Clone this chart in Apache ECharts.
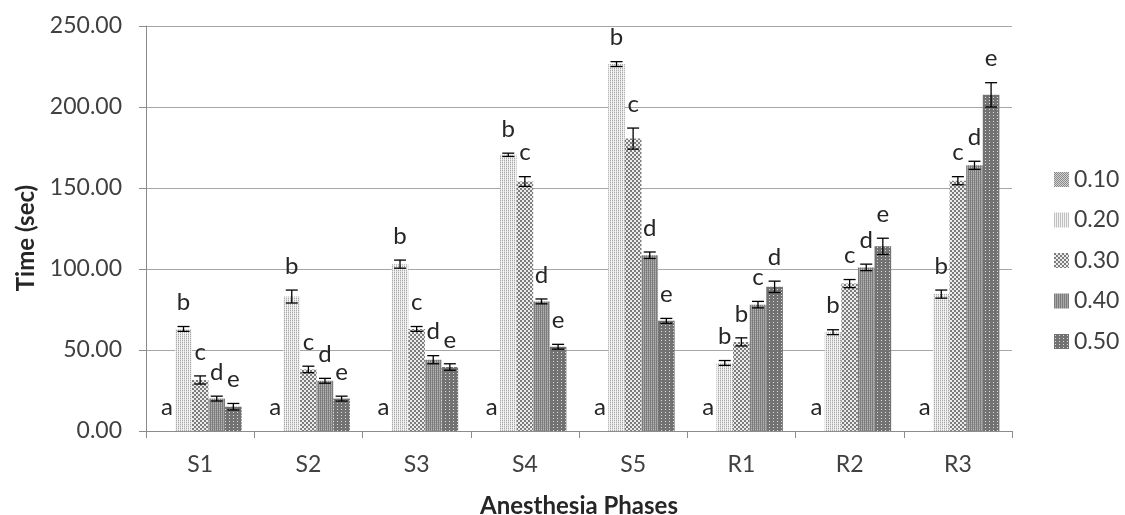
<!DOCTYPE html>
<html>
<head>
<meta charset="utf-8">
<script src="https://cdn.jsdelivr.net/npm/echarts@6/dist/echarts.min.js"></script>
<style>
  html, body { margin: 0; padding: 0; background: #ffffff; }
  #chart { width: 1125px; height: 515px; }
</style>
</head>
<body>
<div id="chart"></div>
<script>
// ---- data ----
const categories = ['S1', 'S2', 'S3', 'S4', 'S5', 'R1', 'R2', 'R3'];
const seriesNames = ['0.10', '0.20', '0.30', '0.40', '0.50'];

const values010 = [0, 0, 0, 0, 0, 0, 0, 0];
const values020 = [63, 83, 103, 170.5, 226.5, 42, 61, 84.5];
const values030 = [31.5, 38, 63, 154, 180.5, 55, 91, 154.5];
const values040 = [20, 31, 44, 80, 108.5, 78, 101, 164];
const values050 = [15, 20, 39.5, 52, 68, 89, 114, 207.5];

const errors010 = [0, 0, 0, 0, 0, 0, 0, 0];
const errors020 = [1.5, 4, 2.5, 1, 1.5, 1.5, 1.5, 2.5];
const errors030 = [2.5, 2, 1.5, 3, 6.5, 2.5, 2.5, 2.5];
const errors040 = [1.5, 1.5, 2.5, 1.5, 2, 2, 2, 2.5];
const errors050 = [2, 1.5, 2, 1.5, 1.5, 3.5, 5, 7.5];

const letters010 = ['a', 'a', 'a', 'a', 'a', 'a', 'a', 'a'];
const letters020 = ['b', 'b', 'b', 'b', 'b', 'b', 'b', 'b'];
const letters030 = ['c', 'c', 'c', 'c', 'c', 'b', 'c', 'c'];
const letters040 = ['d', 'd', 'd', 'd', 'd', 'c', 'd', 'd'];
const letters050 = ['e', 'e', 'e', 'e', 'e', 'd', 'e', 'e'];

const yTicks = [0, 50, 100, 150, 200, 250];

const allValues = [values010, values020, values030, values040, values050];
const allErrors = [errors010, errors020, errors030, errors040, errors050];
const allLetters = [letters010, letters020, letters030, letters040, letters050];

// ---- patterns ----
function makePattern(w, h, bg, pixels) {
  const c = document.createElement('canvas');
  c.width = w; c.height = h;
  const ctx = c.getContext('2d');
  ctx.fillStyle = bg;
  ctx.fillRect(0, 0, w, h);
  pixels.forEach(p => { ctx.fillStyle = p[2]; ctx.fillRect(p[0], p[1], 1, 1); });
  return { image: c, repeat: 'repeat' };
}
const patterns = [
  makePattern(2, 2, '#d2d2d2', [[0, 0, '#8a8a8a'], [1, 1, '#8a8a8a']]),
  makePattern(2, 2, '#f3f3f3', [[0, 0, '#a8a8a8'], [0, 1, '#d8d8d8']]),
  makePattern(4, 4, '#ececec', [[0, 0, '#7c7c7c'], [1, 0, '#7c7c7c'], [0, 1, '#7c7c7c'], [1, 1, '#7c7c7c'],
                                [2, 2, '#7c7c7c'], [3, 2, '#7c7c7c'], [2, 3, '#7c7c7c'], [3, 3, '#7c7c7c']]),
  makePattern(2, 2, '#7c7c7c', [[1, 1, '#b4b4b4'], [1, 0, '#9a9a9a']]),
  makePattern(4, 3, '#727272', [[1, 1, '#dcdcdc']])
];

const FONT = 'Lato, "Liberation Sans", sans-serif';
const GAP = 0.233;

const series = [];
seriesNames.forEach((name, i) => {
  series.push({
    name: name,
    type: 'bar',
    data: allValues[i],
    barGap: '0%',
    barCategoryGap: (GAP * 100) + '%',
    itemStyle: { color: patterns[i] },
    emphasis: { disabled: true },
    z: 2
  });
});
seriesNames.forEach((name, i) => {
  const data = categories.map((c, k) => [k, allValues[i][k], allErrors[i][k], allLetters[i][k]]);
  series.push({
    type: 'custom',
    coordinateSystem: 'cartesian2d',
    silent: true,
    z: 5,
    encode: { x: 0, y: 1 },
    data: data,
    renderItem: function (params, api) {
      const k = api.value(0);
      const v = api.value(1);
      const e = api.value(2);
      const letter = data[params.dataIndex][3];
      const base = api.coord([k, v]);
      const band = api.size([1, 0])[0];
      const bw = band * (1 - GAP) / 5;
      const x = base[0] + (i - 2) * bw;
      const yTop = api.coord([k, v + e])[1];
      const yBot = api.coord([k, v - e])[1];
      const children = [];
      const style = { stroke: '#000', lineWidth: 1.3 };
      if (e > 0) {
        const cw = 6;
        children.push({ type: 'line', shape: { x1: x, y1: yTop, x2: x, y2: yBot }, style: style });
        children.push({ type: 'line', shape: { x1: x - cw, y1: yTop, x2: x + cw, y2: yTop }, style: style });
        children.push({ type: 'line', shape: { x1: x - cw, y1: yBot, x2: x + cw, y2: yBot }, style: style });
      }
      children.push({
        type: 'text',
        x: x, y: yTop - 24,
        style: {
          text: letter, fill: '#262626', font: '24px ' + FONT,
          textAlign: 'center', textVerticalAlign: 'middle'
        }
      });
      return { type: 'group', children: children };
    }
  });
});

const chart = echarts.init(document.getElementById('chart'), null, { renderer: 'canvas' });
chart.setOption({
  animation: false,
  backgroundColor: '#ffffff',
  textStyle: { fontFamily: FONT },
  grid: { left: 146, right: 113, top: 26, bottom: 84, containLabel: false, outerBoundsMode: 'none' },
  graphic: [{
    type: 'text',
    x: 26, y: 238,
    rotation: Math.PI / 2,
    silent: true,
    style: {
      text: 'Time (sec)', fill: '#262626', font: 'bold 24px ' + FONT,
      textAlign: 'center', textVerticalAlign: 'middle'
    }
  }],
  legend: {
    data: seriesNames,
    orient: 'vertical',
    left: 1054,
    top: 168,
    padding: 0,
    itemWidth: 15,
    itemHeight: 15,
    itemGap: 17.5,
    icon: 'rect',
    selectedMode: false,
    textStyle: { fontSize: 23, color: '#404040', fontFamily: FONT }
  },
  xAxis: {
    type: 'category',
    data: categories,
    boundaryGap: true,
    name: 'Anesthesia Phases',
    nameLocation: 'middle',
    nameGap: 63,
    nameTextStyle: { fontSize: 24, fontWeight: 'bold', color: '#262626', fontFamily: FONT },
    axisLine: { lineStyle: { color: '#8c8c8c', width: 1 } },
    axisTick: { show: true, length: 7, lineStyle: { color: '#8c8c8c' } },
    axisLabel: { fontSize: 23, color: '#404040', margin: 22, fontFamily: FONT }
  },
  yAxis: {
    type: 'value',
    min: yTicks[0],
    max: yTicks[yTicks.length - 1],
    interval: 50,
    axisLine: { show: true, lineStyle: { color: '#8c8c8c', width: 1 } },
    axisTick: { show: true, length: 7, lineStyle: { color: '#8c8c8c' } },
    axisLabel: { fontSize: 23, color: '#404040', margin: 24, fontFamily: FONT,
                 formatter: v => v.toFixed(2) },
    splitLine: { show: true, lineStyle: { color: '#a6a6a6', width: 1 } }
  },
  series: series
});
</script>
</body>
</html>
